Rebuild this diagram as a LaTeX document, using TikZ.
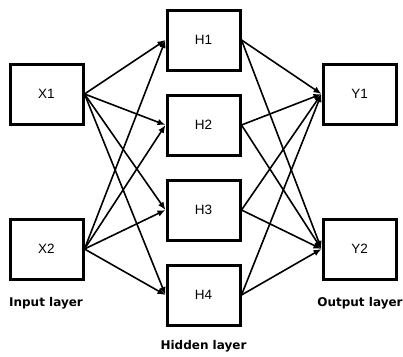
\documentclass[tikz,border=0pt]{standalone}
\usepackage{fontspec}
\setmainfont{Liberation Sans}
\newfontfamily\labelfont{DejaVu Sans}
\usetikzlibrary{arrows.meta}
\begin{document}
\begin{tikzpicture}[x=1pt,y=-1pt,
  unit/.style={draw=black,line width=3pt,minimum width=73pt,minimum height=60pt,
    inner sep=0pt,font=\fontsize{13.5}{15}\selectfont},
  layername/.style={font=\labelfont\bfseries\fontsize{12}{14}\selectfont,inner sep=0pt},
  link/.style={line width=1.6pt,-{Latex[length=8pt,width=6.5pt]}}]
\useasboundingbox (0,0) rectangle (403,356);
\fill[white] (0,0) rectangle (403,356);
% input layer
\node[unit] (x1) at (46.5,94) {X1};
\node[unit] (x2) at (46.5,249) {X2};
% hidden layer
\node[unit] (h1) at (203.5,40) {H1};
\node[unit] (h2) at (203.5,125) {H2};
\node[unit] (h3) at (203.5,210) {H3};
\node[unit] (h4) at (203.5,295) {H4};
% output layer
\node[unit] (y1) at (359.5,94) {Y1};
\node[unit] (y2) at (359.5,249) {Y2};
% layer captions
\node[layername] (lin) at (46,303) {Input layer};
\node[layername] (lhid) at (203.5,346) {Hidden layer};
\node[layername] (lout) at (360,303) {Output layer};
% connections
\foreach \i in {x1,x2}
  \foreach \h in {h1,h2,h3,h4}
    \draw[link] (\i.east) -- (\h.west);
\foreach \h in {h1,h2,h3,h4}
  \foreach \o in {y1,y2}
    \draw[link] (\h.east) -- (\o.west);
\end{tikzpicture}
\end{document}
